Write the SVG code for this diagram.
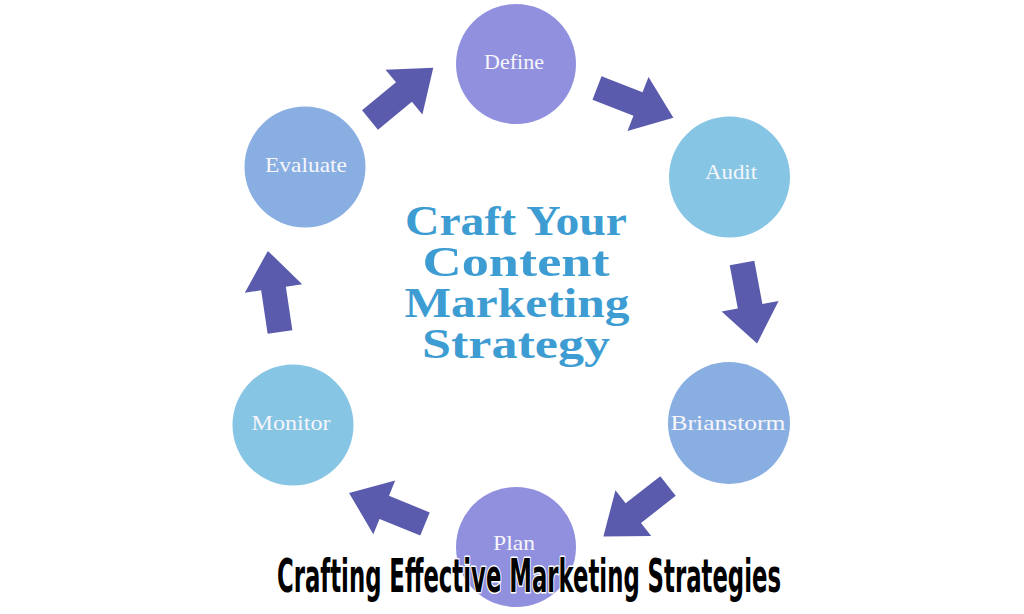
<svg xmlns="http://www.w3.org/2000/svg" width="1024" height="614" viewBox="0 0 1024 614">
<defs>
<style>
.node-purple{fill:#9090DF}
.node-light{fill:#87C5E4}
.node-mid{fill:#89AEE1}
.lbl{font-family:"Liberation Serif",serif;font-size:21px;fill:#F6F6FB;text-anchor:middle}
.arrow{fill:#5A5BAC}
.title{font-family:"Liberation Serif",serif;font-weight:bold;font-size:43px;fill:#3D9CD2;text-anchor:middle}
.caption{font-family:"Liberation Sans Narrow","DejaVu Sans Condensed","Liberation Sans",sans-serif;font-weight:bold;font-size:47px;fill:#000;stroke:#fff;stroke-width:3;paint-order:stroke;stroke-linejoin:round}
</style>
<path id="blk" d="M0,-12.5 L44,-12.5 L44,-29 L82,0 L44,29 L44,12.5 L0,12.5 Z"/>
</defs>
<rect width="1024" height="614" fill="#fff"/>
<g id="connectors">
<use href="#blk" class="arrow" transform="translate(370,120) rotate(-39.5)"/>
<use href="#blk" class="arrow" transform="translate(597,88) rotate(21.3)"/>
<use href="#blk" class="arrow" transform="translate(742,263) rotate(79.4)"/>
<use href="#blk" class="arrow" transform="translate(668,486) rotate(142)"/>
<use href="#blk" class="arrow" transform="translate(425,524) rotate(202.2)"/>
<use href="#blk" class="arrow" transform="translate(280,332) rotate(261.5)"/>
</g>
<g id="define"><circle class="node-purple" cx="516" cy="64" r="60"/><text class="lbl" x="514" y="69" textLength="60" lengthAdjust="spacingAndGlyphs">Define</text></g>
<g id="audit"><circle class="node-light" cx="729.5" cy="177" r="60.5"/><text class="lbl" x="731" y="179" textLength="52" lengthAdjust="spacingAndGlyphs">Audit</text></g>
<g id="brianstorm"><circle class="node-mid" cx="729" cy="423" r="61"/><text class="lbl" x="728" y="430" textLength="115" lengthAdjust="spacingAndGlyphs">Brianstorm</text></g>
<g id="plan"><circle class="node-purple" cx="516" cy="547" r="60"/><text class="lbl" x="514" y="550" textLength="42" lengthAdjust="spacingAndGlyphs">Plan</text></g>
<g id="monitor"><circle class="node-light" cx="293" cy="425" r="60.5"/><text class="lbl" x="291" y="430" textLength="79" lengthAdjust="spacingAndGlyphs">Monitor</text></g>
<g id="evaluate"><circle class="node-mid" cx="305" cy="167" r="60.5"/><text class="lbl" x="306" y="172" textLength="82" lengthAdjust="spacingAndGlyphs">Evaluate</text></g>
<g id="title">
<text class="title" x="516" y="235" textLength="222" lengthAdjust="spacingAndGlyphs">Craft Your</text>
<text class="title" x="516" y="276" textLength="187" lengthAdjust="spacingAndGlyphs">Content</text>
<text class="title" x="517" y="317" textLength="225" lengthAdjust="spacingAndGlyphs">Marketing</text>
<text class="title" x="516" y="358" textLength="188" lengthAdjust="spacingAndGlyphs">Strategy</text>
</g>
<text class="caption" x="277" y="592" textLength="504" lengthAdjust="spacingAndGlyphs">Crafting Effective Marketing Strategies</text>
</svg>
